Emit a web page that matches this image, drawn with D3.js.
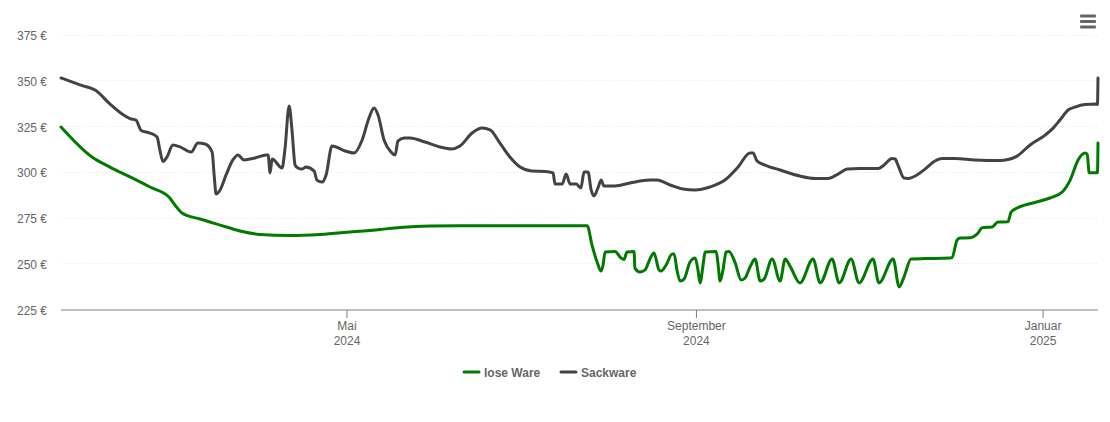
<!DOCTYPE html>
<html><head><meta charset="utf-8">
<script src="https://cdn.jsdelivr.net/npm/d3@7"></script>
<style>html,body{margin:0;padding:0;background:#fff}svg{display:block;font-family:"Liberation Sans",Arial,sans-serif}</style>
</head><body><svg id="c" width="1110" height="422"></svg>
<script>
const startDate = new Date(2024, 0, 21, 8);
const endDate = new Date(2025, 0, 20, 8);
const yTicks = [225, 250, 275, 300, 325, 350, 375];
const xTicks = [[new Date(2024,4,1),"Mai","2024"],[new Date(2024,8,1),"September","2024"],[new Date(2025,0,1),"Januar","2025"]];
const seriesNames = ["lose Ware","Sackware"];
const seriesColors = ["#007a00","#434343"];

// days since startDate
const looseDays = [0,10.9,17.2,24.3,31.3,38,40.1,42.6,48.9,56,63,70,80.6,91.2,101.7,112.3,119.3,129.9,140.4,185.2,186.9,188.7,190.1,190.8,191.5,195,197.1,198.2,199.2,201.7,202,203.8,205.6,207.3,208.7,210.5,211.2,213,215.1,215.8,216.8,217.9,219.3,221.4,223.2,224.2,224.9,226,226.7,230.6,231.3,232,233,234.1,235.1,237.2,239.4,240.8,242.5,244.3,246.1,247.5,250.3,253.1,254.9,256.6,260.1,264.7,267.2,271.4,273.9,278.1,280.9,285.8,287.9,292.9,295,296.7,299.2,304.1,312.9,313.6,315.4,316.4,320,322.8,324.2,327.7,329.8,333.3,334.4,336.5,342.1,348.1,352.4,355.2,358,360.4,361.2,361.9,364.3,364.8,365];
const looseVals = [325,308.6,303.1,297.7,292.2,286.7,282.4,278,274.7,271.4,268.2,266.3,265.7,266.3,267.6,269,270.1,270.9,271,271,260.5,251.2,246.3,249.6,256.7,257,253.4,252.6,256.7,257,247.9,245.8,246.9,252.9,256.1,246.9,246.3,249.6,255.6,255.6,246.9,240.8,241.9,251.2,253.4,246.9,239.8,249.6,256.7,257,249.6,240.8,246.9,256.7,257,251.2,241.4,242.5,248.5,252.9,240.8,241.9,252.9,240.8,252.9,249,239.8,252.9,239.8,252.9,239.8,252.9,239.8,252.9,239.8,252.9,237.6,243,252.9,253.1,253.4,253.6,263.2,264.3,264.5,267.1,270,270.4,273.1,273.2,278.5,280.7,283.5,286.2,289.5,296,307,310.8,310.2,300,300,300,316.2];

const sackDays = [0,6.7,12.3,17.2,21.5,24.3,26.4,28.2,31.3,33.8,34.8,35.9,37.3,39.4,41.9,45.8,48.2,50.7,53.2,53.9,54.6,56,58.1,60.5,62.3,64.4,68.3,72.2,72.9,73.6,74.3,77.8,78.8,80.3,81.3,82.4,83.4,84.8,86.2,89.1,90.1,91.9,93.3,95.4,100,103.1,106,108.4,110.2,111.6,113.7,116.2,117.6,118.6,120.7,122.8,128.1,133.4,137.6,140.4,144.7,148.2,151,154.5,158,161.6,165.8,170.4,173.2,173.9,176.4,177.8,179.2,181.3,183,184.1,185.5,186.6,187.6,189,190.1,191.1,195,200.3,207.3,209.8,214.4,218.9,223.2,228.4,233.7,238.3,242.5,243.6,245,247.8,253.1,260.1,265.4,270,273.5,276.7,281.2,287.6,289.7,292.5,293.6,294.6,296.7,298.1,301.3,304.1,307.6,310.1,314.7,321.7,330.5,333.3,336.5,341.1,346.4,349.2,351.6,354.5,356.9,360.4,364.3,364.8,365];
const sackVals = [351.8,348,344.9,337.6,332.1,329.6,328.8,323.1,321.7,319.5,312.4,306.1,308.6,315.2,314.1,311.3,316.2,315.7,311.3,298.8,288.4,290.6,298.8,307,309.7,307,308.1,309.7,309.7,299.9,307.5,302.6,312.4,336.5,323.4,304.2,302.6,302,303.1,300.9,296,294.9,298.8,314.6,311.9,310.8,317.9,329.9,335.4,331.5,317.9,311.3,309.7,317.3,319,319,316.8,314.1,313,314.6,321.7,324.4,323.4,316.2,308.6,303.1,300.9,300.7,299.9,293.8,293.8,299.3,293.8,293.8,291.7,300.4,300.4,290.6,287.3,291.7,296,292.8,292.8,294.4,296,296,293.3,291.1,290.6,292.2,296,303.1,310.8,310.8,306.4,304.2,301.5,298.2,296.9,296.9,299.3,302,302.3,302.3,304.2,307.8,307.5,304.2,297.1,296.9,298.8,302,306.4,307.8,307.8,307,306.7,307.2,309.1,315.2,320.6,324.4,328.8,334.3,335.9,337.3,337.6,337.3,351.8];

const svg = d3.select("#c");
const x = d3.scaleTime().domain([startDate,endDate]).range([61,1098]);
const y = d3.scaleLinear().domain([225,375]).range([310,35.5]);
const dayToDate = d => new Date(+startDate + d*864e5);

// grid
svg.append("g").selectAll("line").data(yTicks.filter(t=>t>225)).join("line")
  .attr("x1",61).attr("x2",1098).attr("y1",d=>Math.round(y(d))-.5).attr("y2",d=>Math.round(y(d))-.5)
  .attr("stroke","#e6e6e6").attr("stroke-dasharray","1,2");

// y labels
svg.append("g").selectAll("text").data(yTicks).join("text")
  .attr("x",47).attr("y",d=>y(d)+4.6).attr("text-anchor","end")
  .attr("font-size",12).attr("fill","#666").text(d=>d+" €");

// x axis
const axisG = svg.append("g").attr("transform","translate(0,310)")
  .call(d3.axisBottom(x).offset(0).tickValues(xTicks.map(d=>d[0])).tickSize(8).tickFormat(""));
axisG.selectAll("path,line").attr("stroke","#808080");
axisG.select("path").attr("d","M61,0H1098");
const labels = svg.append("g").selectAll("text").data(xTicks).join("text")
  .attr("text-anchor","middle").attr("font-size",12).attr("fill","#666");
labels.append("tspan").attr("x",d=>x(d[0])).attr("y",330).text(d=>d[1]);
labels.append("tspan").attr("x",d=>x(d[0])).attr("y",345).text(d=>d[2]);

// lines
const line = d3.line().x(d=>x(dayToDate(d[0]))).y(d=>y(d[1])).curve(d3.curveMonotoneX);
[[looseDays,looseVals],[sackDays,sackVals]].forEach(([ds,vs],i)=>{
  svg.append("path").datum(ds.map((d,j)=>[d,vs[j]])).attr("d",line)
    .attr("fill","none").attr("stroke",seriesColors[i]).attr("stroke-width",3)
    .attr("stroke-linejoin","round").attr("stroke-linecap","round");
});

// legend
const lx = [464,561];
seriesNames.forEach((n,i)=>{
  svg.append("line").attr("x1",lx[i]).attr("x2",lx[i]+15).attr("y1",372).attr("y2",372)
    .attr("stroke",seriesColors[i]).attr("stroke-width",3).attr("stroke-linecap","round");
  svg.append("text").attr("x",lx[i]+20).attr("y",376.5).attr("font-size",12).attr("font-weight","bold")
    .attr("fill","#666").text(n);
});

// menu icon
[16,21.5,27].forEach(v=>svg.append("rect").attr("x",1080).attr("y",v-1.5).attr("width",16).attr("height",3).attr("rx",1).attr("fill","#666"));
</script></body></html>
